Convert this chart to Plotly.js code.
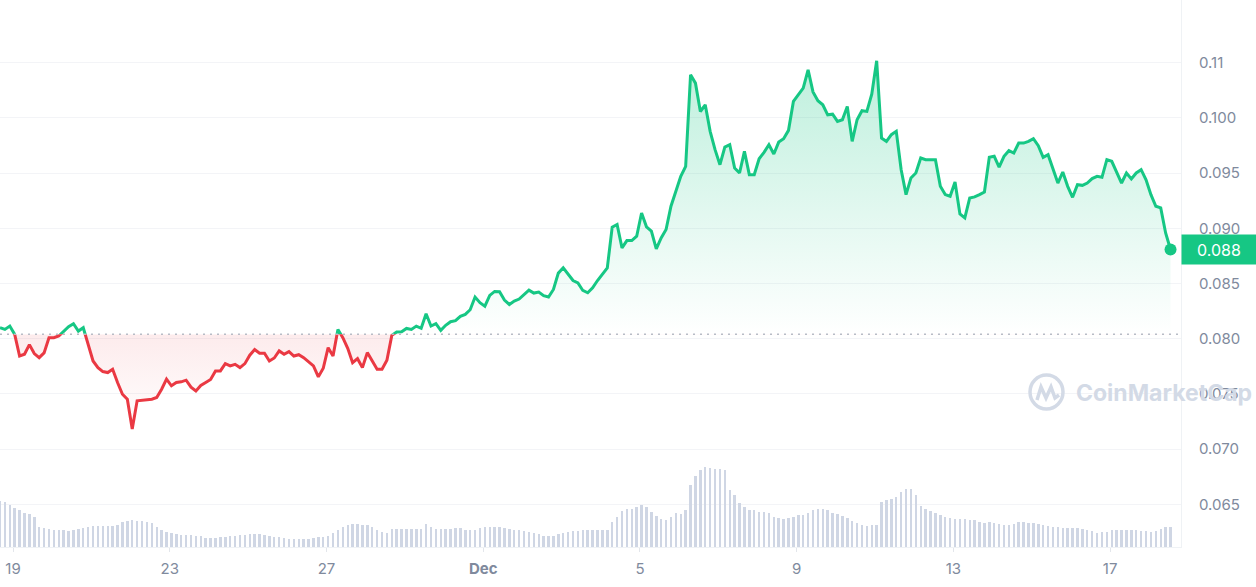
<!DOCTYPE html>
<html><head><meta charset="utf-8">
<script src="https://cdn.plot.ly/plotly-3.0.1.min.js"></script>
<style>html,body{margin:0;padding:0;background:#fff;} #chart{width:1256px;height:587px;}</style>
</head><body><div id="chart"></div>
<script>
// ---- data ----
const startTimeUTC = Date.UTC(2023, 10, 18, 16, 0);   // first sample
const stepHours = 3;                                   // sampling step

const price = [
0.0810,0.08084,0.08114,0.08039,0.07843,0.07859,0.07946,0.07865,0.07828,0.07871,
0.08009,0.08009,0.08024,0.08069,0.08108,0.08135,0.08069,0.08099,0.07955,0.07798,
0.07738,0.07702,0.07693,0.07723,0.07603,0.07497,0.07452,0.07181,0.07437,0.07443,
0.07452,0.07452,0.07467,0.07542,0.07633,0.07573,0.07603,0.07609,0.07624,0.07561,
0.07527,0.07576,0.07603,0.07630,0.07708,0.07708,0.07774,0.07753,0.07768,0.07738,
0.07774,0.07850,0.07901,0.07868,0.07868,0.07798,0.07825,0.07889,0.07859,0.07883,
0.07843,0.07855,0.07828,0.07792,0.07753,0.07654,0.07732,0.07919,0.07843,0.08084,
0.08009,0.07913,0.07783,0.07819,0.07738,0.07874,0.07798,0.07723,0.07723,0.07804,
0.08030,0.08060,0.08063,0.08093,0.08084,0.08114,0.08094,0.08226,0.08115,0.08136,
0.08075,0.08121,0.08154,0.08163,0.08202,0.08220,0.08262,0.08377,0.08326,0.08295,
0.08392,0.08428,0.08425,0.08350,0.08310,0.08341,0.08359,0.08401,0.08440,0.08413,
0.08422,0.08389,0.08377,0.08446,0.08594,0.08642,0.08582,0.08527,0.08506,0.08437,
0.08416,0.08461,0.08527,0.08582,0.08642,0.09010,0.09034,0.08823,0.08889,0.08889,
0.08928,0.09139,0.09013,0.08974,0.08814,0.08913,0.08989,0.09200,0.09335,0.09471,
0.09561,0.10390,0.10315,0.10058,0.10119,0.09878,0.09712,0.09576,0.09736,0.09757,
0.09546,0.09501,0.09697,0.09486,0.09486,0.09630,0.09688,0.09757,0.09673,0.09781,
0.09811,0.09887,0.10149,0.10215,0.10270,0.10435,0.10236,0.10155,0.10119,0.10028,
0.10034,0.09968,0.09983,0.10104,0.09787,0.09983,0.10065,0.10059,0.10215,0.10517,
0.09817,0.09787,0.09848,0.09878,0.09531,0.09305,0.09456,0.09501,0.09637,0.09622,
0.09622,0.09622,0.09380,0.09305,0.09290,0.09420,0.09130,0.09094,0.09275,0.09284,
0.09305,0.09329,0.09643,0.09652,0.09555,0.09652,0.09703,0.09682,0.09772,0.09772,
0.09787,0.09811,0.09748,0.09643,0.09667,0.09531,0.09410,0.09510,0.09380,0.09281,
0.09395,0.09389,0.09410,0.09450,0.09471,0.09462,0.09622,0.09607,0.09510,0.09410,
0.09501,0.09447,0.09501,0.09531,0.09440,0.09305,0.09200,0.09185,0.08958,0.08808
];

const volume = [
138,136,127,116,110,103,98,90,61,56,
55,52,50,50,49,51,54,57,60,62,
64,64,64,62,66,74,78,80,78,77,
75,72,61,51,46,42,38,37,36,35,
34,32,28,27,26,29,31,32,33,35,
37,38,38,38,36,33,31,29,28,25,
24,23,24,25,27,29,31,34,42,52,
60,65,68,68,67,65,59,52,46,42,
53,55,55,55,55,55,55,68,60,55,
55,55,55,56,57,52,51,52,57,59,
60,61,61,58,55,52,50,48,45,41,
38,34,33,34,40,43,45,47,49,50,
51,51,50,50,50,76,90,108,115,115,
120,125,120,105,93,83,81,90,102,98,
110,185,214,232,241,237,235,235,230,172,
155,132,120,112,111,106,104,102,90,88,
85,88,91,95,97,102,112,115,115,112,
102,98,94,87,78,72,67,63,65,65,
135,142,145,150,165,173,175,155,122,114,
108,102,95,90,86,85,85,83,81,80,
75,72,75,72,68,65,67,70,74,74,
72,71,69,66,63,61,59,58,58,58,
56,54,51,47,42,44,46,50,50,50,
50,50,52,49,47,45,48,54,60,60
];

const baseline = 0.0804;
const yTickVals = [0.065,0.070,0.075,0.080,0.085,0.090,0.095,0.100,0.105];
const yTickText = ['0.065','0.070','0.075','0.080','0.085','0.090','0.095','0.100','0.11'];
const xTickVals = ['2023-11-19','2023-11-23','2023-11-27','2023-12-01','2023-12-05','2023-12-09','2023-12-13','2023-12-17'];
const xTickText = ['19','23','27','<b>Dec</b>','5','9','13','17'];

// ---- build ----
const GREEN = '#16c784', RED = '#ea3943';
function fmt(ms){const d=new Date(ms);const p=n=>String(n).padStart(2,'0');
  return d.getUTCFullYear()+'-'+p(d.getUTCMonth()+1)+'-'+p(d.getUTCDate())+' '+p(d.getUTCHours())+':'+p(d.getUTCMinutes());}
const times = price.map((_, i) => fmt(startTimeUTC + i*stepHours*3600e3));
const lastT = times[times.length-1], lastP = price[price.length-1];

const yLo = 0.06113, yHi = 0.11068;
const f = (baseline - yLo)/(yHi - yLo);
const PW = 1181, PH = 547; // plot area in px (for decorative watermark placement)
const px = x => x/PW, py = y => 1 - y/PH;

const traces = [
  {x:[lastT], y:[lastP], xaxis:'x', yaxis:'y', mode:'markers', cliponaxis:false,
   marker:{color:GREEN, size:12}, hoverinfo:'skip'},
  {x:times, y:price, xaxis:'x', yaxis:'y2', mode:'lines', line:{color:GREEN, width:3},
   fill:'tozeroy', fillcolor:'rgba(22,199,132,0.12)',
   fillgradient:{type:'vertical', start:baseline, stop:0.1052,
     colorscale:[[0,'rgba(22,199,132,0.0)'],[1,'rgba(22,199,132,0.28)']]}, hoverinfo:'skip'},
  {x:times, y:price.map(() => baseline), xaxis:'x', yaxis:'y3', mode:'lines',
   line:{width:0, color:'rgba(0,0,0,0)'}, hoverinfo:'skip'},
  {x:times, y:price, xaxis:'x', yaxis:'y3', mode:'lines', line:{color:RED, width:3},
   fill:'tonexty', fillcolor:'rgba(234,57,67,0.06)',
   fillgradient:{type:'vertical', start:0.0716, stop:baseline,
     colorscale:[[0,'rgba(234,57,67,0.0)'],[1,'rgba(234,57,67,0.10)']]}, hoverinfo:'skip'},
  {type:'bar', x:times, y:volume, xaxis:'x', yaxis:'y4',
   width: stepHours*3600e3*0.5, marker:{color:'#cfd6e4', line:{width:0}}, hoverinfo:'skip'}
];

// decorative CoinMarketCap watermark logo
const wave = [[1037,400],[1041,387],[1046,398],[1051,387],[1055,398],[1059,395]];
const wavePath = 'M' + wave.map(p => px(p[0])+','+py(p[1])).join(' L');

const layout = {
  width:1256, height:587, margin:{l:0, r:75, t:0, b:40},
  paper_bgcolor:'#ffffff', plot_bgcolor:'rgba(0,0,0,0)',
  showlegend:false, hovermode:false, bargap:0,
  font:{family:'Inter, "Open Sans", sans-serif', size:15, color:'#808a9d'},
  xaxis:{type:'date', range:['2023-11-18 16:00','2023-12-18 19:25'], anchor:'y',
    tickmode:'array', tickvals:xTickVals, ticktext:xTickText,
    showgrid:false, zeroline:false, showline:true, linecolor:'#eff2f5', linewidth:1,
    ticks:'outside', ticklen:4, tickcolor:'#e3e6eb', ticklabelstandoff:4,
    tickfont:{size:15, color:'#808a9d'}, fixedrange:true},
  yaxis:{range:[yLo, yHi], side:'right', anchor:'x',
    tickmode:'array', tickvals:yTickVals, ticktext:yTickText,
    showgrid:true, gridcolor:'#f3f4f7', gridwidth:1, zeroline:false,
    showline:true, linecolor:'#eff2f5', ticks:'', ticklabelstandoff:14,
    tickfont:{size:15, color:'#808a9d'}, fixedrange:true},
  yaxis2:{domain:[f,1], range:[baseline, yHi], visible:false, anchor:'x', fixedrange:true},
  yaxis3:{domain:[0,f], range:[yLo, baseline], visible:false, anchor:'x', fixedrange:true},
  yaxis4:{domain:[0,0.25], range:[0,410], visible:false, anchor:'x', fixedrange:true},
  shapes:[
    {type:'line', xref:'paper', x0:0, x1:1, yref:'y', y0:baseline, y1:baseline,
     line:{color:'#b7bcc6', width:1.5, dash:'2px,5px'}, layer:'above'},
    {type:'circle', xref:'paper', yref:'paper', x0:px(1030), x1:px(1063), y0:py(409), y1:py(375),
     line:{color:'#d3dae6', width:3.5}, layer:'above'},
    {type:'path', xref:'paper', yref:'paper', path:wavePath,
     line:{color:'#d3dae6', width:3.5}, layer:'above'}
  ],
  annotations:[
    {xref:'paper', x:1, xanchor:'left', yref:'y', y:lastP, yanchor:'middle',
     text:lastP.toFixed(3), showarrow:false, bgcolor:GREEN, width:72, height:27,
     align:'center', font:{color:'#ffffff', size:16, family:'Inter, sans-serif'}},
    {xref:'paper', x:px(1074), xanchor:'left', yref:'paper', y:py(393), yanchor:'middle',
     text:'CoinMarketCap', showarrow:false,
     font:{family:'Inter, sans-serif', size:23, color:'#d3dae6', weight:700}}
  ]
};

Plotly.newPlot('chart', traces, layout, {staticPlot:true, displayModeBar:false});
</script>
</body></html>
